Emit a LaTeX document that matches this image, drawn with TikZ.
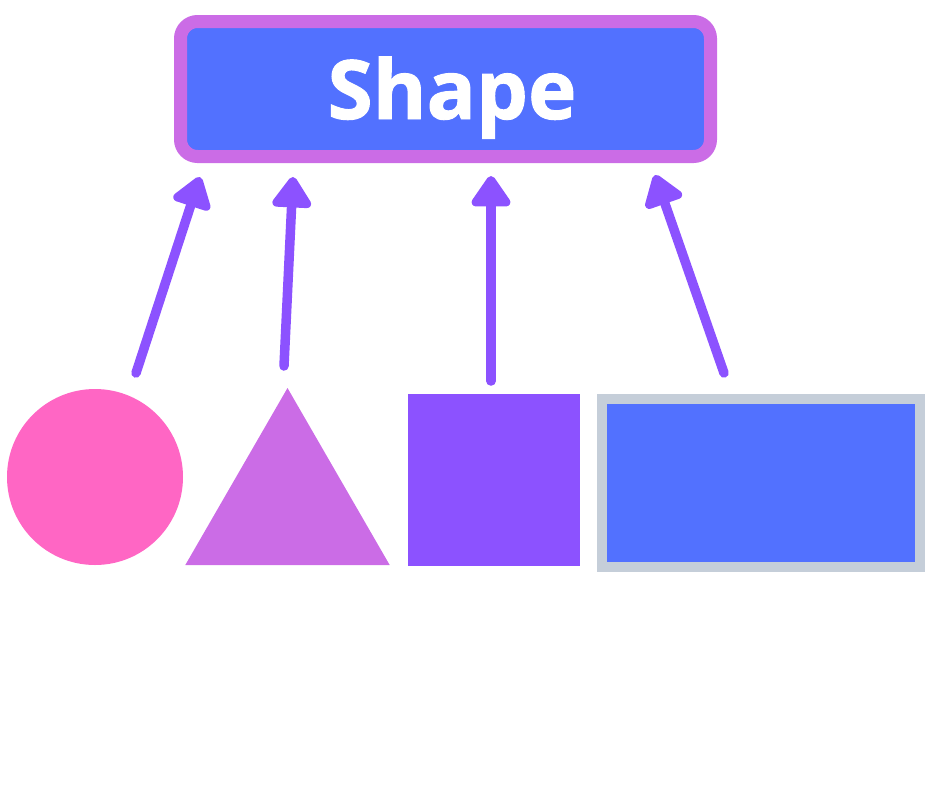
\documentclass[tikz,border=0pt]{standalone}
\usepackage{fontspec}
\setsansfont{Open Sans}[BoldFeatures={FakeBold=1.2}]
\usetikzlibrary{arrows.meta,shapes.geometric}
\definecolor{shpink}{HTML}{FF66C4}
\definecolor{shlilac}{HTML}{CB6CE6}
\definecolor{shviolet}{HTML}{8C52FF}
\definecolor{shblue}{HTML}{5271FF}
\definecolor{shgrey}{HTML}{C5CED9}
\tikzset{
	uparrow/.style={draw=shviolet,line width=9.5pt,line cap=round,-{Triangle[width=44pt,length=34pt,round]}},
	solid/.style={inner sep=0pt,outer sep=0pt}
}
\begin{document}
\begin{tikzpicture}[x=1pt,y=-1pt]
		\useasboundingbox(0,0)rectangle(940,788);
		\node(shape)[fill=shblue,draw=shlilac,line width=13pt,rounded corners=17pt,minimum width=530pt,minimum height=135pt,text height=60pt,text depth=0pt,text=white,font=\sffamily\bfseries\fontsize{82}{82}\selectfont]at(445.5,89){\hspace*{13pt}Shape};
		\node(circ)[solid,circle,fill=shpink,minimum size=176pt]at(95,477){};
		\node(tri)[solid,regular polygon,regular polygon sides=3,fill=shlilac,minimum size=236pt]at(287.5,506){};
		\node(sq)[solid,rectangle,fill=shviolet,minimum size=172pt]at(494,480){};
		\node(rect)[solid,rectangle,fill=shblue,draw=shgrey,line width=10pt,minimum width=318pt,minimum height=168pt]at(761,483){};
		\coordinate(A1)at(136,373);
		\coordinate(A2)at(284,366);
		\coordinate(A3)at(491,381);
		\coordinate(A4)at(724,373);
		\coordinate(B1)at(200,177);
		\coordinate(B2)at(293,177);
		\coordinate(B3)at(491,176);
		\coordinate(B4)at(655,175);
		\foreach \j in {1,...,4} {
			\draw[uparrow](A\j)--(B\j);
		}
	\end{tikzpicture}
\end{document}
